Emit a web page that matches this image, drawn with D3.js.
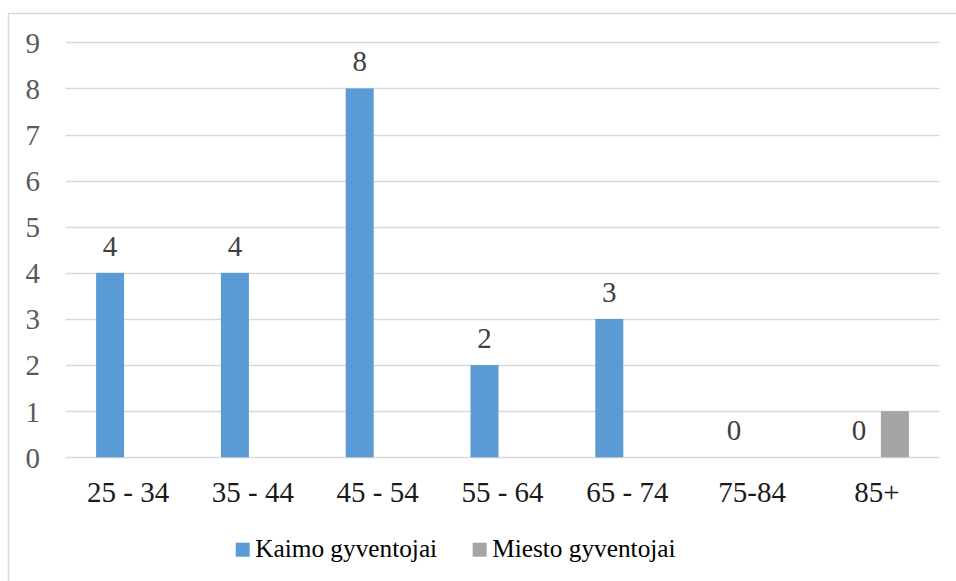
<!DOCTYPE html>
<html><head><meta charset="utf-8">
<script src="https://cdn.jsdelivr.net/npm/d3@7"></script>
<style>
@font-face { font-family: "ChartSerif"; src: local("Liberation Serif"), local("LiberationSerif"), local("Liberation Serif Regular"), local("LiberationSerif-Regular"); }
</style>
</head>
<body style="margin:0"><svg id="c" width="956" height="581" style="display:block"></svg>
<script>
const categories = ["25 - 34","35 - 44","45 - 54","55 - 64","65 - 74","75-84","85+"];
const seriesNames = ["Kaimo gyventojai","Miesto gyventojai"];
const kaimo = [4,4,8,2,3,0,0];
const miesto = [0,0,0,0,0,0,1];
const yTicks = [0,1,2,3,4,5,6,7,8,9];
const colors = ["#5b9bd5","#a5a5a5"];

const FONT = '"Liberation Serif", "ChartSerif", "Times New Roman", "Tinos", "DejaVu Serif", serif';
const svg = d3.select("#c");
svg.append("rect").attr("x",8.5).attr("y",13.5).attr("width",1000).attr("height",1000)
  .attr("fill","none").attr("stroke","#d9d9d9").attr("stroke-width",1.5);

const pL = 65.7, pR = 939.3, pT = 42.3, pB = 457.3;
const x = d3.scaleBand().domain(categories).range([pL,pR]).padding(0);
const y = d3.scaleLinear().domain([0,9]).range([pB,pT]);
const bw = x.bandwidth();
const x1 = d3.scaleBand().domain(seriesNames).range([bw/2-32, bw/2+32]).paddingInner(8/36).paddingOuter(0);

svg.append("g").selectAll("line").data(yTicks).join("line")
  .attr("x1",pL).attr("x2",pR)
  .attr("y1",d=>Math.round(y(d))+0.5).attr("y2",d=>Math.round(y(d))+0.5)
  .attr("stroke","#d9d9d9").attr("stroke-width",1.5);

const yAxis = d3.axisLeft(y).tickValues(yTicks).tickSize(0).tickPadding(0).tickFormat(d3.format("d"));
const ya = svg.append("g").attr("transform","translate(40,0)").call(yAxis);
ya.select(".domain").remove();
ya.attr("font-family",FONT).attr("font-size",29);
ya.selectAll("text").attr("fill","#595959").attr("dy","0.34em")
  .attr("font-family",FONT).style("font-family",FONT).attr("font-size",29);

const xAxis = d3.axisBottom(x).tickSize(0).tickPadding(0);
const xa = svg.append("g").attr("transform","translate(0,502)").call(xAxis);
xa.select(".domain").remove();
xa.attr("font-family",FONT).attr("font-size",29);
xa.selectAll("text").attr("fill","#1a1a1a").attr("dy","0")
  .attr("font-family",FONT).style("font-family",FONT).attr("font-size",29);

const data = [kaimo, miesto];
data.forEach((vals,si)=>{
  svg.append("g").selectAll("rect").data(vals).join("rect")
    .attr("x",(d,i)=>x(categories[i])+x1(seriesNames[si]))
    .attr("width",x1.bandwidth())
    .attr("y",d=>y(d))
    .attr("height",d=>y(0)-y(d))
    .attr("fill",colors[si]);
});

svg.selectAll("text.lbl").data(kaimo).join("text").attr("class","lbl")
  .attr("x",(d,i)=>x(categories[i])+x1(seriesNames[0])+x1.bandwidth()/2)
  .attr("y",d=>y(d)-17)
  .attr("text-anchor","middle").attr("fill","#404040")
  .attr("font-family",FONT).style("font-family",FONT).attr("font-size",29)
  .text(d=>d);

const legX = [235.7, 472.7];
svg.selectAll("rect.leg").data(seriesNames).join("rect").attr("class","leg")
  .attr("x",(d,i)=>legX[i]).attr("y",542.7).attr("width",14).attr("height",14).attr("fill",(d,i)=>colors[i]);
svg.selectAll("text.leg").data(seriesNames).join("text").attr("class","leg")
  .attr("x",(d,i)=>legX[i]+19.5).attr("y",557).attr("fill","#000")
  .attr("font-family",FONT).style("font-family",FONT).attr("font-size",25.3)
  .text(d=>d);
</script></body></html>
